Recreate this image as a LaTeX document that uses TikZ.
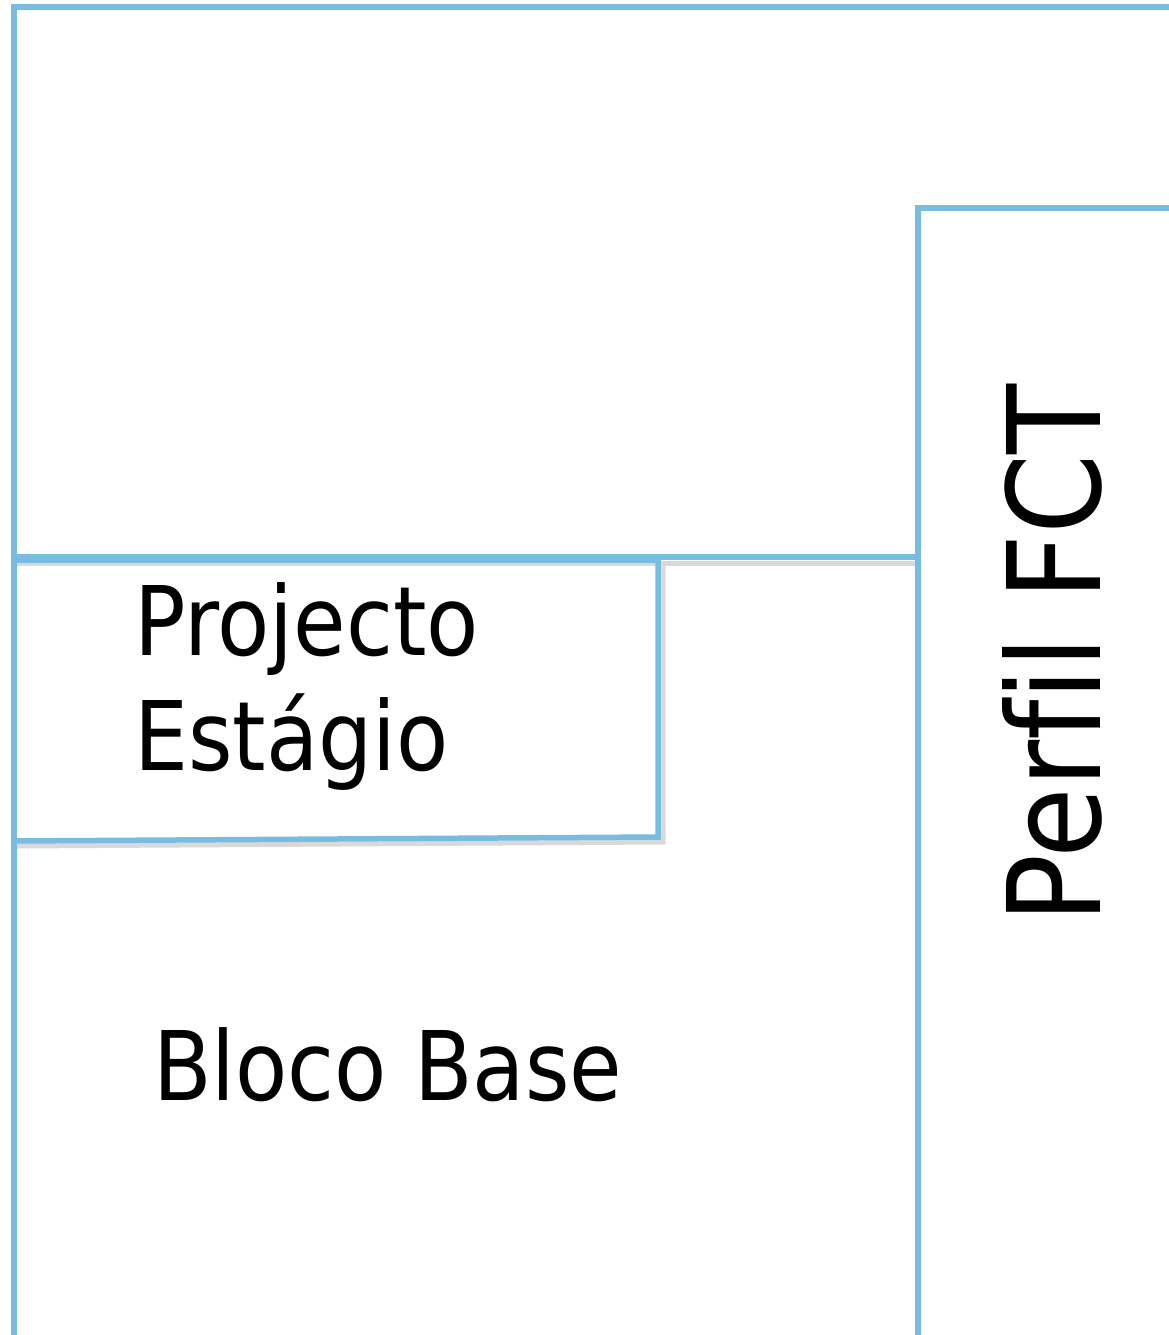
\documentclass[tikz,border=0pt]{standalone}
\usepackage{fontspec}
\setmainfont{DejaVu Sans}[FakeStretch=0.89,Ligatures=NoCommon]
\definecolor{lineblue}{HTML}{78BCDF}
\begin{document}
\begin{tikzpicture}[x=1pt,y=-1pt,
  bl/.style={draw=lineblue,line width=5.5pt,line cap=rect,line join=miter},
  shad/.style={draw=black!15,line width=5pt},
  lbl/.style={inner sep=0pt,anchor=base west,font=\fontsize{96}{110}\selectfont}]
\useasboundingbox[fill=white] (0,0) rectangle (1169,1335);
% shadows
\draw[shad] (17,563) -- (921,563);
\draw[shad] (17,846) -- (663,842) -- (663,565);
% outer frame
\draw[bl] (1175,7) -- (14,7) -- (14,1340);
% Perfil frame
\draw[bl] (1175,208) -- (918,208) -- (918,1340);
% horizontal divider
\draw[bl] (14,557) -- (918,557);
% Projecto box
\draw[bl] (14,560) -- (658,560) -- (658,837) -- (14,841);
\node[lbl] (p1) at (134,655) {Projecto};
\node[lbl] (p2) at (134,770) {Estágio};
\node[lbl] (bb) at (153,1100) {Bloco Base};
\node[lbl,rotate=90,font=\fontsize{129}{150}\selectfont] (pf) at (1100,924) {Perf\kern0pt il FCT};
\end{tikzpicture}
\end{document}
